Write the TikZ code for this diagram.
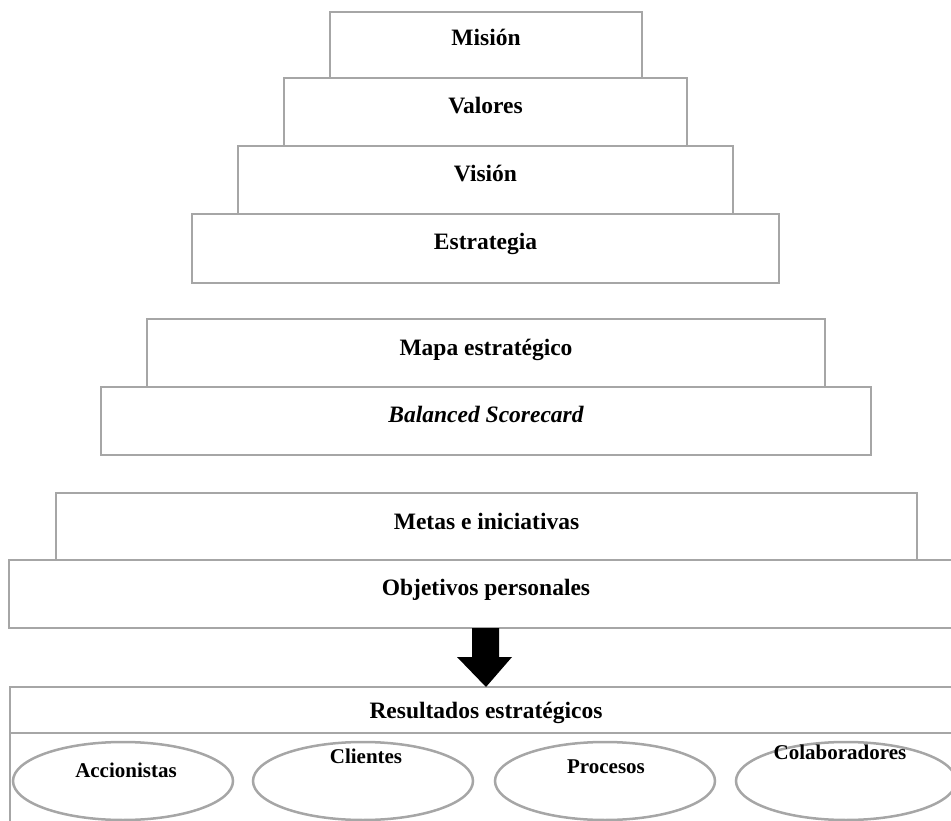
\documentclass[tikz,border=0pt]{standalone}
\usepackage{fontspec}
\setmainfont{Liberation Serif}
\usetikzlibrary{calc,shapes.geometric}
\begin{document}
\begin{tikzpicture}[x=1pt,y=-1pt,
  box/.style={draw=boxgray, line width=2.5pt, rectangle, anchor=north west, inner sep=0pt, outer sep=0pt},
  oval/.style={draw=boxgray, line width=2.5pt, ellipse, inner sep=0pt, minimum width=220pt, minimum height=78pt},
  txt/.style={anchor=base, font=\fontsize{23.5}{26}\selectfont\bfseries, inner sep=0pt},
  otxt/.style={anchor=base, font=\fontsize{21}{24}\selectfont\bfseries, inner sep=0pt},
  blockarrow/.style={fill=black, draw=none}]
\definecolor{boxgray}{RGB}{166,166,166}
\path[use as bounding box] (0,0) rectangle (951,821);
\clip (0,0) rectangle (951,821);
% boxes (pixel coordinates)
\node[box, minimum width=312pt, minimum height=66pt] (mision) at (330,12) {};
\node[box, minimum width=403pt, minimum height=68pt] (valores) at (284,78) {};
\node[box, minimum width=495pt, minimum height=68pt] (vision) at (238,146) {};
\node[box, minimum width=587pt, minimum height=69pt] (estrategia) at (192,214) {};
\node[box, minimum width=678pt, minimum height=68pt] (mapa) at (147,319) {};
\node[box, minimum width=770pt, minimum height=68pt] (bsc) at (101,387) {};
\node[box, minimum width=861pt, minimum height=67pt] (metas) at (56,493) {};
\node[box, minimum width=954pt, minimum height=68pt] (objetivos) at (9,560) {};
\node[box, minimum width=952pt, minimum height=46pt] (resultados) at (10,687) {};
\node[box, minimum width=952pt, minimum height=140pt] (perspectivas) at (10,733) {};
% texts
\node[txt] (tmision) at ($(mision.north)+(0,34)$) {Misión};
\node[txt] (tvalores) at ($(valores.north)+(0,36)$) {Valores};
\node[txt] (tvision) at ($(vision.north)+(0,36)$) {Visión};
\node[txt] (testrategia) at ($(estrategia.north)+(0,36)$) {Estrategia};
\node[txt] (tmapa) at ($(mapa.north)+(0,36)$) {Mapa estratégico};
\node[txt] (tbsc) at ($(bsc.north)+(0,35)$) {\itshape Balanced Scorecard};
\node[txt] (tmetas) at ($(metas.north)+(0,36)$) {Metas e iniciativas};
\node[txt] (tobjetivos) at ($(objetivos.north)+(0,35)$) {Objetivos personales};
\node[txt] (tresultados) at ($(resultados.north)+(0,31)$) {Resultados estratégicos};
% ellipses
\node[oval] (acc) at (123,781) {};
\node[oval] (cli) at (363,781) {};
\node[oval] (pro) at (605,781) {};
\node[oval] (col) at (846,781) {};
\node[otxt] (tacc) at (126,777) {Accionistas};
\node[otxt] (tcli) at (366,763) {Clientes};
\node[otxt] (tpro) at (606,773) {Procesos};
\node[otxt] (tcol) at (840,759) {Colaboradores};
% block arrow
\fill[blockarrow]
  ($(objetivos.south)+(-14,0)$) -- ($(objetivos.south)+(13,0)$)
  -- ($(objetivos.south)+(13,29)$) -- ($(objetivos.south)+(26,29)$)
  -- (resultados.north) -- ($(objetivos.south)+(-29,29)$)
  -- ($(objetivos.south)+(-14,29)$) -- cycle;
\end{tikzpicture}
\end{document}
